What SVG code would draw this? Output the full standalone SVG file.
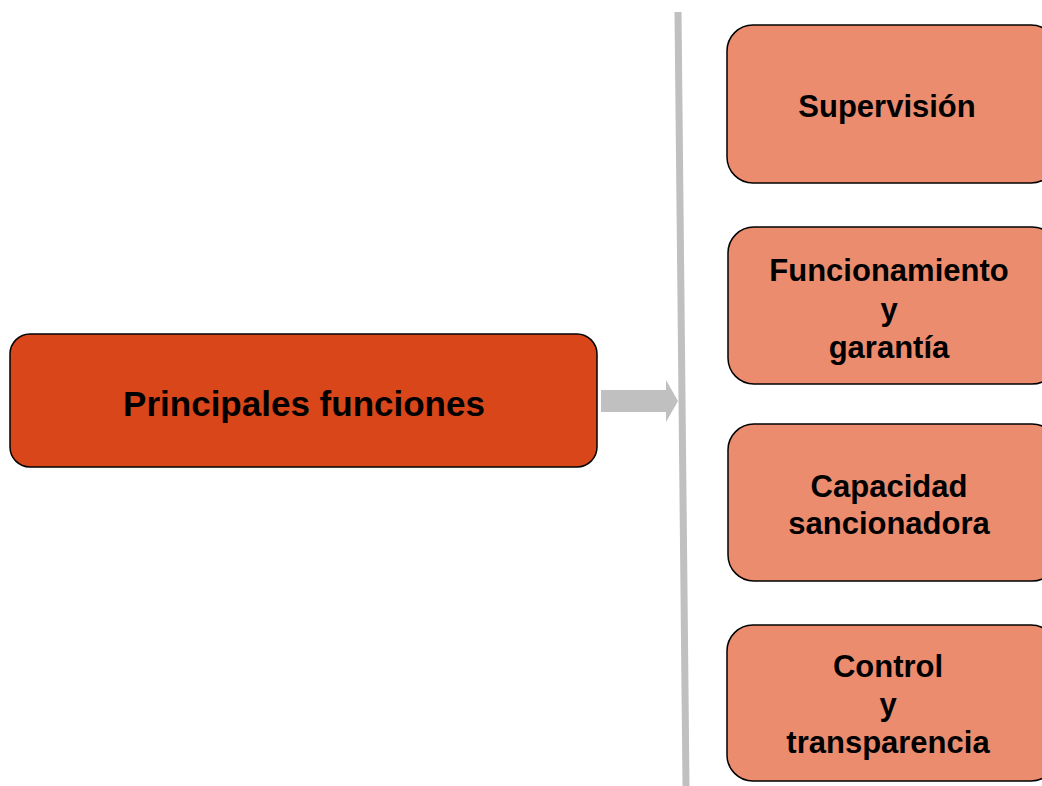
<svg xmlns="http://www.w3.org/2000/svg" width="1042" height="786" viewBox="0 0 1042 786">
<style>
.main{fill:#D9461A;stroke:#000;stroke-width:1.5}
.sub{fill:#EB8C6E;stroke:#000;stroke-width:1.5}
text{font-family:"Liberation Sans",Arial,sans-serif;font-weight:bold;fill:#000;text-anchor:middle}
.t1{font-size:35px}
.t2{font-size:31px}
</style>
<rect width="1042" height="786" fill="#fff"/>
<g id="connectors">
<line x1="678" y1="12" x2="686" y2="786" stroke="#C0C0C0" stroke-width="7"/>
<polygon points="601,390 666,390 666,380 678,401 666,422 666,412 601,412" fill="#C0C0C0"/>
</g>
<g id="main">
<rect class="main" x="10" y="334" width="587" height="133" rx="20"/>
<text class="t1" x="304" y="416">Principales funciones</text>
</g>
<g id="supervision">
<rect class="sub" x="727" y="25" width="330" height="158" rx="26"/>
<text class="t2" x="887" y="117">Supervisión</text>
</g>
<g id="funcionamiento">
<rect class="sub" x="728" y="227" width="330" height="157" rx="26"/>
<text class="t2" x="889" y="281">Funcionamiento</text>
<text class="t2" x="889" y="320">y</text>
<text class="t2" x="889" y="358">garantía</text>
</g>
<g id="capacidad">
<rect class="sub" x="728" y="424" width="330" height="157" rx="26"/>
<text class="t2" x="889" y="497">Capacidad</text>
<text class="t2" x="889" y="534">sancionadora</text>
</g>
<g id="control">
<rect class="sub" x="727" y="625" width="330" height="156" rx="26"/>
<text class="t2" x="888" y="677">Control</text>
<text class="t2" x="888" y="715">y</text>
<text class="t2" x="888" y="753">transparencia</text>
</g>
</svg>
